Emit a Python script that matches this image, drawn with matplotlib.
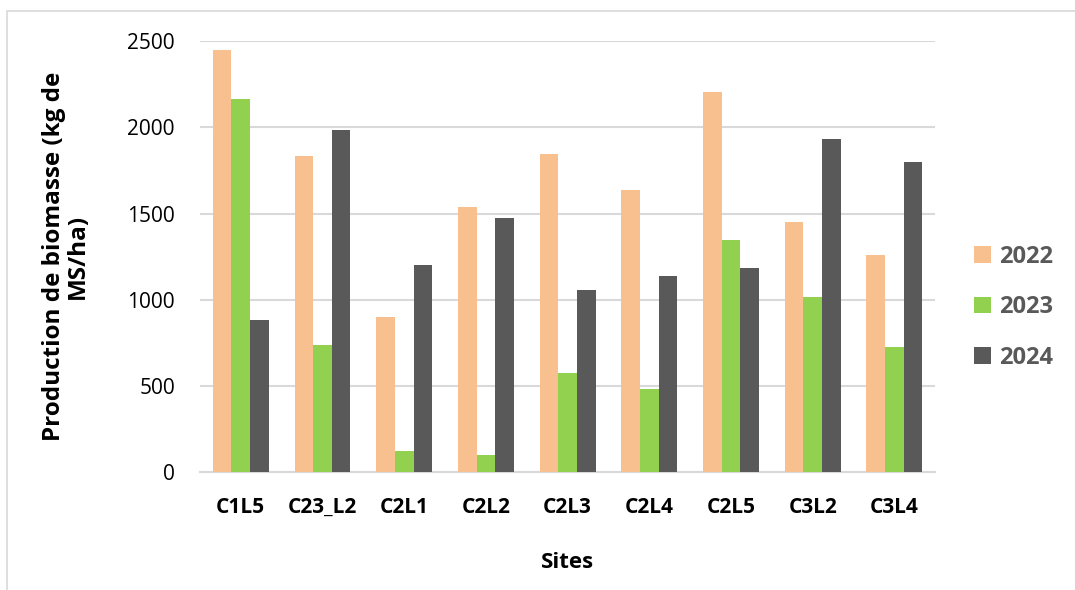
import numpy as np
import matplotlib
matplotlib.use("Agg")
from matplotlib import pyplot as plt
from matplotlib.patches import Rectangle

# Biomass production per site and year (kg DM/ha)
sites = ["C1L5", "C23_L2", "C2L1", "C2L2", "C2L3", "C2L4", "C2L5", "C3L2", "C3L4"]
years = ["2022", "2023", "2024"]
prod_2022 = [2448, 1835, 902, 1538, 1845, 1636, 2206, 1453, 1260]
prod_2023 = [2164, 738, 124, 99, 576, 481, 1345, 1014, 728]
prod_2024 = [881, 1982, 1204, 1472, 1057, 1138, 1182, 1932, 1801]

colors = ["#F9C08F", "#92D050", "#595959"]

plt.rcParams["font.family"] = ["Open Sans", "DejaVu Sans"]

fig = plt.figure(figsize=(10.75, 5.9), dpi=100)
ax = fig.add_axes([0.186, 0.1995, 0.684, 0.731])

# light frame around the chart area
fig.patches.append(Rectangle((7 / 1075, -0.1), 1.2, 1 - 11 / 590 + 0.1,
                             transform=fig.transFigure, fill=False,
                             edgecolor="#d9d9d9", linewidth=1.2))

x = np.arange(len(sites))
width = 0.228
for i, (vals, year) in enumerate(zip([prod_2022, prod_2023, prod_2024], years)):
    ax.bar(x + (i - 1) * width, vals, width, color=colors[i], label=year,
           zorder=3)

ax.set_xlim(-0.5, len(sites) - 0.5)
ax.set_ylim(0, 2500)
ax.set_yticks(np.arange(0, 2501, 500))
ax.yaxis.grid(True, color="#d9d9d9", linewidth=1.5, zorder=0)
for side in ["top", "right", "left"]:
    ax.spines[side].set_visible(False)
ax.spines["bottom"].set_color("#d9d9d9")
ax.spines["bottom"].set_linewidth(1.5)
ax.tick_params(axis="both", length=0)
ax.tick_params(axis="y", labelsize=15, pad=18)

ax.set_xticks(x)
ax.set_xticklabels(sites, fontsize=15, fontweight="bold")
ax.tick_params(axis="x", pad=18)

ax.set_xlabel("Sites", fontsize=16, fontweight="bold", labelpad=24)
ax.set_ylabel("Production de biomasse (kg de\nMS/ha)", fontsize=17.5,
              fontweight="bold", labelpad=27, linespacing=1.0)

leg = ax.legend(loc="center left", bbox_to_anchor=(1.024, 0.383), frameon=False,
                fontsize=17, handlelength=0.7, handleheight=0.7,
                labelspacing=1.12, handletextpad=0.35)
for t in leg.get_texts():
    t.set_color("#595959")
    t.set_fontweight("bold")

fig.savefig("out.png", dpi=100)
